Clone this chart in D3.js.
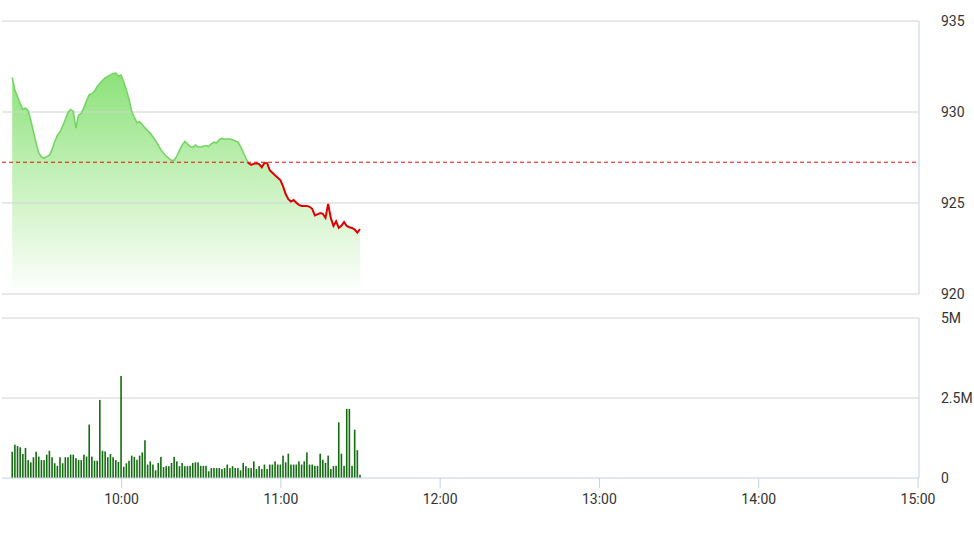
<!DOCTYPE html>
<html>
<head>
<meta charset="utf-8">
<script src="https://cdn.jsdelivr.net/npm/d3@7"></script>
<style>
body { margin: 0; background: #fff; }
text { font-family: Roboto, "Liberation Sans", Arial, sans-serif; }
</style>
</head>
<body>
<div id="chart-area"></div>
<script>
// Session runs one point per minute from startTime
const startTime = "09:19"
const refPrice = 927.24

const priceVals = [
    931.90, 931.21, 930.84, 930.47, 930.14, 930.22, 930.07, 929.53, 928.92, 928.27,
    927.75, 927.54, 927.46, 927.55, 927.62, 927.93, 928.37, 928.71, 928.90, 929.22,
    929.59, 929.98, 930.14, 930.04, 929.12, 929.84, 929.92, 930.25, 930.62, 930.95,
    931.01, 931.14, 931.40, 931.57, 931.73, 931.87, 931.96, 932.04, 932.12, 932.14,
    931.96, 932.03, 931.65, 931.21, 930.71, 930.05, 929.70, 929.41, 929.47, 929.30,
    929.13, 928.98, 928.84, 928.63, 928.42, 928.18, 927.93, 927.73, 927.58, 927.45,
    927.34, 927.35, 927.57, 927.89, 928.18, 928.38, 928.25, 928.11, 928.05, 928.18,
    928.08, 928.08, 928.12, 928.16, 928.10, 928.25, 928.34, 928.31, 928.48, 928.55,
    928.52, 928.52, 928.52, 928.47, 928.41, 928.36, 928.11, 927.80, 927.46, 927.19,
    927.10, 927.15, 927.18, 927.14, 926.96, 927.20, 927.20, 926.80, 926.66, 926.52,
    926.39, 926.26, 925.93, 925.49, 925.21, 925.08, 925.16, 925.01, 924.90, 924.84,
    924.84, 924.84, 924.79, 924.68, 924.32, 924.38, 924.45, 924.41, 924.18, 924.95,
    924.18, 923.74, 923.99, 923.63, 923.75, 923.96, 923.74, 923.67, 923.63, 923.54,
    923.37, 923.57
]

// volume per minute, in thousands of shares
const volumeK = [
    820, 1040, 1000, 960, 750, 940, 560, 490, 650, 820,
    670, 560, 560, 730, 850, 650, 460, 380, 650, 460,
    650, 650, 730, 730, 620, 560, 560, 730, 670, 1670,
    670, 540, 540, 2440, 850, 830, 650, 750, 650, 560,
    500, 3190, 350, 460, 540, 700, 660, 570, 700, 800,
    1180, 420, 520, 420, 240, 470, 660, 340, 370, 370,
    470, 660, 520, 370, 470, 370, 370, 380, 470, 490,
    490, 380, 380, 380, 210, 310, 310, 310, 310, 280,
    310, 420, 310, 370, 310, 310, 240, 470, 370, 310,
    310, 520, 280, 370, 280, 420, 280, 420, 420, 520,
    420, 420, 700, 490, 760, 420, 420, 420, 520, 420,
    520, 800, 420, 420, 380, 380, 760, 570, 470, 700,
    280, 370, 380, 1740, 760, 380, 2160, 2160, 380, 1510,
    870, 100
]

const priceTicks = [920, 925, 930, 935]
const volumeTicks = [0, 2500, 5000]
const timeTicks = ["10:00", "11:00", "12:00", "13:00", "14:00", "15:00"]

const width = 974, height = 547
const plotLeft = 2, plotRight = 919

const svg = d3.select("#chart-area").append("svg")
    .attr("width", width)
    .attr("height", height)

const parseTime = d3.timeParse("%H:%M")
const t0 = parseTime(startTime)
const priceData = priceVals.map((v, i) => ({ date: d3.timeMinute.offset(t0, i), value: v }))
const volData = volumeK.map((v, i) => ({ date: d3.timeMinute.offset(t0, i), value: v }))

// Scales
const x = d3.scaleTime()
    .domain([parseTime("09:15"), parseTime("15:00")])
    .range([1.6, 917.5])
const yP = d3.scaleLinear().domain([920, 935]).range([294, 21])
const yV = d3.scaleLinear().domain([0, 5000]).range([478, 318])

// gradient for the area
const defs = svg.append("defs")
const grad = defs.append("linearGradient")
    .attr("id", "areaGrad")
    .attr("gradientUnits", "userSpaceOnUse")
    .attr("x1", 0).attr("x2", 0)
    .attr("y1", yP(d3.max(priceVals)))
    .attr("y2", yP(920))
grad.append("stop").attr("offset", "0%").attr("stop-color", "#8ce27a")
grad.append("stop").attr("offset", "45%").attr("stop-color", "#c2f0b7")
grad.append("stop").attr("offset", "100%").attr("stop-color", "#ffffff")

defs.append("clipPath").attr("id", "clipAbove")
    .append("rect")
    .attr("x", 0).attr("y", 0)
    .attr("width", width).attr("height", yP(refPrice))
defs.append("clipPath").attr("id", "clipBelow")
    .append("rect")
    .attr("x", 0).attr("y", yP(refPrice))
    .attr("width", width).attr("height", yP(920) - yP(refPrice))

// Area
const area = d3.area()
    .x(d => x(d.date))
    .y0(yP(920) - 2)
    .y1(d => yP(d.value))
svg.append("path")
    .attr("d", area(priceData))
    .attr("fill", "url(#areaGrad)")

// Gridlines
svg.append("g").selectAll("line")
    .data(priceTicks)
    .join("line")
    .attr("x1", plotLeft).attr("x2", plotRight)
    .attr("y1", d => yP(d)).attr("y2", d => yP(d))
    .attr("stroke", "#d2d2d2")
    .attr("stroke-width", 1)
svg.append("g").selectAll("line")
    .data(volumeTicks.filter(d => d > 0))
    .join("line")
    .attr("x1", plotLeft).attr("x2", plotRight)
    .attr("y1", d => yV(d)).attr("y2", d => yV(d))
    .attr("stroke", "#d2d2d2")
    .attr("stroke-width", 1)

// Reference line
svg.append("line")
    .attr("x1", plotLeft).attr("x2", plotRight)
    .attr("y1", yP(refPrice)).attr("y2", yP(refPrice))
    .attr("stroke", "#e01010")
    .attr("stroke-width", 1)
    .attr("stroke-dasharray", "4,3")

// Price line, green above reference, red below
const line = d3.line()
    .x(d => x(d.date))
    .y(d => yP(d.value))
svg.append("path")
    .attr("d", line(priceData))
    .attr("fill", "none")
    .attr("stroke", "#74d662")
    .attr("stroke-width", 1.6)
    .attr("clip-path", "url(#clipAbove)")
svg.append("path")
    .attr("d", line(priceData))
    .attr("fill", "none")
    .attr("stroke", "#e00000")
    .attr("stroke-width", 2)
    .attr("clip-path", "url(#clipBelow)")

// Volume bars
svg.append("g").selectAll("rect")
    .data(volData)
    .join("rect")
    .attr("x", d => x(d.date) - 0.8)
    .attr("width", 1.6)
    .attr("y", d => yV(d.value))
    .attr("height", d => yV(0) - yV(d.value))
    .attr("fill", "#136d10")

// Right axis lines
const axisColor = "#c3d0e2"
svg.append("line")
    .attr("x1", plotRight).attr("x2", plotRight)
    .attr("y1", yP(935)).attr("y2", yP(920))
    .attr("stroke", axisColor)
svg.append("line")
    .attr("x1", plotRight).attr("x2", plotRight)
    .attr("y1", yV(5000)).attr("y2", yV(0))
    .attr("stroke", axisColor)
svg.append("line")
    .attr("x1", plotLeft).attr("x2", plotRight)
    .attr("y1", yV(0)).attr("y2", yV(0))
    .attr("stroke", axisColor)

// Axis labels
const yPAxis = svg.append("g")
    .attr("transform", `translate(${plotRight}, 0)`)
    .call(d3.axisRight(yP).tickValues(priceTicks).tickSize(0).tickPadding(22))
const yVAxis = svg.append("g")
    .attr("transform", `translate(${plotRight}, 0)`)
    .call(d3.axisRight(yV).tickValues(volumeTicks).tickSize(0).tickPadding(22)
        .tickFormat(d => d === 0 ? "0" : d3.format("~s")(d * 1000)))
const xAxis = svg.append("g")
    .attr("transform", `translate(0, ${yV(0)})`)
    .call(d3.axisBottom(x)
        .tickValues(timeTicks.map(parseTime))
        .tickFormat(d3.timeFormat("%H:%M"))
        .tickSize(10).tickPadding(6))

svg.selectAll(".domain").remove()
svg.selectAll(".tick text")
    .attr("font-size", "14px")
    .attr("font-family", "Roboto, 'Liberation Sans', Arial, sans-serif")
    .attr("fill", "#333")
xAxis.selectAll(".tick line").attr("stroke", axisColor)
</script>
</body>
</html>
